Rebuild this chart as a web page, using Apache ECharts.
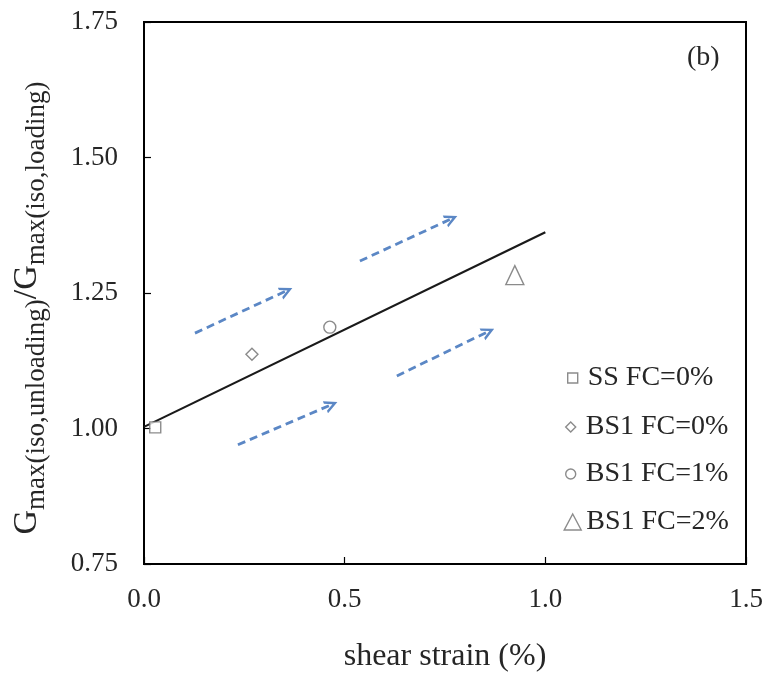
<!DOCTYPE html>
<html>
<head>
<meta charset="utf-8">
<script src="https://cdn.jsdelivr.net/npm/echarts@6/dist/echarts.min.js"></script>
<style>
  html, body { margin: 0; padding: 0; background: #fff; }
  #chart { width: 766px; height: 679px; }
</style>
</head>
<body>
<div id="chart"></div>
<script>
// Stiffness ratio versus shear strain, one series per soil
const seriesNames = ['SS FC=0%', 'BS1 FC=0%', 'BS1 FC=1%', 'BS1 FC=2%'];
const ssFc0 = [[0.028, 1.002]];
const bs1Fc0 = [[0.269, 1.137]];
const bs1Fc1 = [[0.463, 1.187]];
const bs1Fc2 = [[0.924, 1.283]];

// Linear trend through the points
const trendLine = [[0.0, 1.003], [1.0, 1.362]];

// Dashed direction arrows: [start, end]
const arrows = [
  [[0.127, 1.176], [0.355, 1.254]],
  [[0.538, 1.309], [0.766, 1.387]],
  [[0.630, 1.097], [0.858, 1.179]],
  [[0.234, 0.970], [0.467, 1.044]]
];

const xTicks = { min: 0, max: 1.5, step: 0.5 };
const yTicks = { min: 0.75, max: 1.75, step: 0.25 };

const FONT = "'Liberation Serif', 'Times New Roman', serif";
const TXT = '#262626';
const MARK = '#6e6e6e';

const chart = echarts.init(document.getElementById('chart'));

const markerStyle = { color: '#ffffff', borderColor: MARK, borderWidth: 1.4 };

function legendFor(name, icon, w, h, cx, cy, gap) {
  return {
    data: [name],
    icon: icon,
    left: cx - w / 2,
    top: cy - 14,
    padding: 0,
    itemWidth: w,
    itemHeight: h,
    selectedMode: false,
    itemStyle: markerStyle,
    textStyle: {
      fontFamily: FONT, fontSize: 28, color: TXT, lineHeight: 28,
      padding: [0, 0, 0, gap]
    }
  };
}

chart.setOption({
  animation: false,
  backgroundColor: '#ffffff',
  title: {
    text: '(b)',
    left: 687,
    top: 44,
    padding: 0,
    textStyle: { fontFamily: FONT, fontSize: 28, fontWeight: 'normal', color: TXT }
  },
  grid: {
    left: 144, right: 20, top: 22, bottom: 115,
    show: true, borderColor: '#000', borderWidth: 2
  },
  legend: [
    legendFor(seriesNames[0], 'rect', 10, 10, 572, 378, 5),
    legendFor(seriesNames[1], 'diamond', 10, 10, 570, 427, 5),
    legendFor(seriesNames[2], 'circle', 10, 10, 570, 474, 5),
    legendFor(seriesNames[3], 'triangle', 17, 16, 572, 522, 0)
  ],
  xAxis: {
    type: 'value',
    min: xTicks.min, max: xTicks.max, interval: xTicks.step,
    name: 'shear strain (%)',
    nameLocation: 'middle',
    nameGap: 77,
    nameTextStyle: { fontFamily: FONT, fontSize: 32, color: TXT },
    axisLine: { show: true, lineStyle: { color: '#000', width: 2 } },
    axisTick: { show: true, inside: true, length: 7, lineStyle: { color: '#000', width: 1.2 } },
    splitLine: { show: false },
    axisLabel: {
      fontFamily: FONT, fontSize: 27, color: TXT, margin: 22,
      formatter: v => v.toFixed(1)
    }
  },
  yAxis: {
    type: 'value',
    min: yTicks.min, max: yTicks.max, interval: yTicks.step,
    name: '{g|G}{s|max(iso,unloading)}{g|/G}{e|max(iso,loading)}',
    nameLocation: 'middle',
    nameRotate: 90,
    nameGap: 94,
    nameTextStyle: {
      fontFamily: FONT, color: TXT,
      rich: {
        g: { fontFamily: FONT, fontSize: 34, color: TXT },
        s: { fontFamily: FONT, fontSize: 27, color: TXT, padding: [18, 0, 0, 0] },
        e: { fontFamily: FONT, fontSize: 27, color: TXT, padding: [18, 30, 0, 0] }
      }
    },
    axisLine: { show: true, lineStyle: { color: '#000', width: 2 } },
    axisTick: { show: true, inside: true, length: 7, lineStyle: { color: '#000', width: 1.2 } },
    splitLine: { show: false },
    axisLabel: {
      fontFamily: FONT, fontSize: 27, color: TXT, margin: 26,
      formatter: v => v.toFixed(2)
    }
  },
  series: [
    {
      name: 'trend', type: 'line', data: trendLine,
      showSymbol: false, symbol: 'none',
      lineStyle: { color: '#1a1a1a', width: 2.2 }, z: 2
    },
    {
      name: 'arrows', type: 'lines', coordinateSystem: 'cartesian2d',
      data: arrows.map(a => ({ coords: a })),
      symbol: ['none', 'path://M0,10 L6,0 L12,10 L9.6,10 L6,4.2 L2.4,10 Z'],
      symbolSize: [17, 13],
      lineStyle: { color: '#5b87c5', width: 2.8, type: [8, 5], opacity: 1 },
      z: 1
    },
    { name: seriesNames[0], type: 'scatter', data: ssFc0, symbol: 'rect', symbolSize: 11, itemStyle: markerStyle, z: 3 },
    { name: seriesNames[1], type: 'scatter', data: bs1Fc0, symbol: 'diamond', symbolSize: 12, itemStyle: markerStyle, z: 3 },
    { name: seriesNames[2], type: 'scatter', data: bs1Fc1, symbol: 'circle', symbolSize: 12, itemStyle: markerStyle, z: 3 },
    { name: seriesNames[3], type: 'scatter', data: bs1Fc2, symbol: 'triangle', symbolSize: [18, 19], itemStyle: markerStyle, z: 3 }
  ]
});
</script>
</body>
</html>
